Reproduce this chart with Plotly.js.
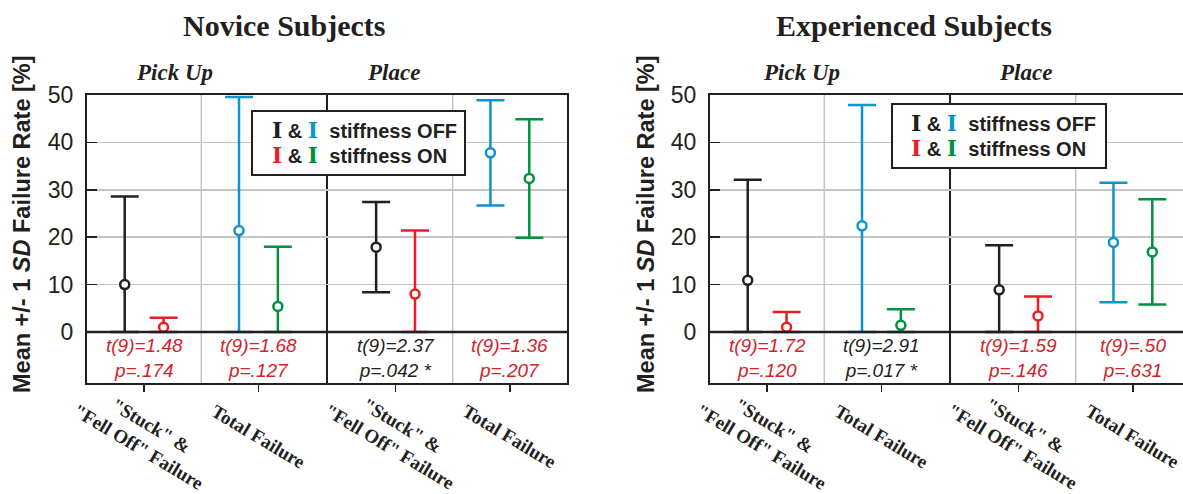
<!DOCTYPE html>
<html>
<head>
<meta charset="utf-8">
<script src="https://cdn.plot.ly/plotly-3.0.1.min.js"></script>
<style>html,body{margin:0;padding:0;background:#fff;}#chart{width:1183px;height:494px;}</style>
</head>
<body>
<div id="chart"></div>
<script>
// ---------- data ----------
const tasks = ['Pick Up', 'Place'];
const categoryLabels = ['"Stuck" &<br>"Fell Off" Failure', 'Total Failure', '"Stuck" &<br>"Fell Off" Failure', 'Total Failure'];
const panelTitles = ['Novice Subjects', 'Experienced Subjects'];

// Novice subjects (mean, SD) – [Pick Up, Place]
const noviceStuckOffMean = [10.0, 17.9];
const noviceStuckOffSD   = [18.6, 9.5];
const noviceStuckOnMean  = [1.0, 8.0];
const noviceStuckOnSD    = [2.0, 13.4];
const noviceTotalOffMean = [21.4, 37.8];
const noviceTotalOffSD   = [28.2, 11.1];
const noviceTotalOnMean  = [5.4, 32.4];
const noviceTotalOnSD    = [12.6, 12.5];

// Experienced subjects (mean, SD) – [Pick Up, Place]
const expStuckOffMean = [10.9, 8.9];
const expStuckOffSD   = [21.2, 9.4];
const expStuckOnMean  = [1.0, 3.4];
const expStuckOnSD    = [3.2, 4.1];
const expTotalOffMean = [22.4, 18.9];
const expTotalOffSD   = [25.5, 12.6];
const expTotalOnMean  = [1.4, 16.9];
const expTotalOnSD    = [3.4, 11.1];

// t-test statistics per category [PU stuck, PU total, Place stuck, Place total]
const noviceStats = [['t(9)=1.48', 'p=.174'], ['t(9)=1.68', 'p=.127'], ['t(9)=2.37', 'p=.042 *'], ['t(9)=1.36', 'p=.207']];
const noviceSig   = [false, false, true, false];
const expStats    = [['t(9)=1.72', 'p=.120'], ['t(9)=2.91', 'p=.017 *'], ['t(9)=1.59', 'p=.146'], ['t(9)=.50', 'p=.631']];
const expSig      = [false, true, false, false];

const yTicks = [0, 10, 20, 30, 40, 50];

// ---------- styling / geometry ----------
const W = 1183, H = 494;
const px = x => x / W;
const py = y => 1 - y / H;
const C = {black: '#231f20', red: '#ed1c24', blue: '#0e93cb', green: '#00923f', statRed: '#d2232a', grid: '#c4c4c4'};
const groupPos = [1, 2, 3.2, 4.2];   // category slots on the x axis
const off = 0.17;
const stuckIdx = [0, 2], totalIdx = [1, 3];
const yRange = [-10.76, 50];

function bars(xa, ya, idx, sign, mean, sd, color) {
  return {
    type: 'scatter', mode: 'markers', xaxis: xa, yaxis: ya,
    x: idx.map(i => groupPos[i] + sign * off),
    y: mean,
    error_y: {type: 'data', symmetric: false, array: sd,
              arrayminus: sd.map((s, k) => Math.min(s, mean[k])),
              color: color, thickness: 2.5, width: 14},
    marker: {symbol: 'circle', size: 9, color: '#ffffff', line: {color: color, width: 2.5}},
    hoverinfo: 'skip'
  };
}

const data = [
  bars('x', 'y', stuckIdx, -1, noviceStuckOffMean, noviceStuckOffSD, C.black),
  bars('x', 'y', stuckIdx, 1, noviceStuckOnMean, noviceStuckOnSD, C.red),
  bars('x', 'y', totalIdx, -1, noviceTotalOffMean, noviceTotalOffSD, C.blue),
  bars('x', 'y', totalIdx, 1, noviceTotalOnMean, noviceTotalOnSD, C.green),
  bars('x2', 'y2', stuckIdx, -1, expStuckOffMean, expStuckOffSD, C.black),
  bars('x2', 'y2', stuckIdx, 1, expStuckOnMean, expStuckOnSD, C.red),
  bars('x2', 'y2', totalIdx, -1, expTotalOffMean, expTotalOffSD, C.blue),
  bars('x2', 'y2', totalIdx, 1, expTotalOnMean, expTotalOnSD, C.green)
];

const sans = 'Liberation Sans, Arial, Helvetica, sans-serif';
const serif = 'Liberation Serif, Times New Roman, serif';

function xAxis(domain, range, anchor) {
  return {domain: domain, range: range, anchor: anchor, showgrid: false, zeroline: false,
          showline: true, mirror: true, linecolor: C.black, linewidth: 2,
          tickmode: 'array', tickvals: groupPos, ticks: 'outside', ticklen: 7, tickwidth: 1.5,
          tickcolor: C.black, showticklabels: false, fixedrange: true};
}
function yAxis(anchor, mirror) {
  return {domain: [py(383), py(95)], range: yRange, anchor: anchor, zeroline: false,
          showline: true, mirror: mirror, linecolor: C.black, linewidth: 2,
          tickmode: 'array', tickvals: yTicks, ticks: 'inside', ticklen: 10, tickwidth: 1.5,
          tickcolor: C.black, showgrid: true, gridcolor: C.grid, gridwidth: 1.5,
          ticklabelstandoff: 7,
          tickfont: {family: sans, size: 23, color: C.black}, fixedrange: true};
}

const shapes = [];
const annotations = [];
function note(o) {
  annotations.push(Object.assign({showarrow: false, xanchor: 'center', yanchor: 'middle'}, o));
}

function panel(xa, ya, stats, sig, titleX, puX, plX, legendBox, legendTextX, legendRows, ylabX) {
  const xr = xa === 'x' ? 'x' : 'x2';
  const yr = ya === 'y' ? 'y' : 'y2';
  // vertical separators at the midpoints between category slots
  [[0, 1, C.grid, 1.5], [1, 2, C.black, 2], [2, 3, C.grid, 1.5]].forEach(([a, b, col, w]) => {
    const xm = (groupPos[a] + groupPos[b]) / 2;
    shapes.push({type: 'line', xref: xr, yref: yr + ' domain', x0: xm, x1: xm, y0: 0, y1: 1,
                 line: {color: col, width: w}, layer: 'below'});
  });
  // zero line separating the statistics strip
  shapes.push({type: 'line', xref: xr + ' domain', yref: yr, x0: 0, x1: 1, y0: 0, y1: 0,
               line: {color: C.black, width: 2.5}, layer: 'above'});
  // statistics text
  stats.forEach((s, i) => {
    note({xref: xr, yref: yr, x: groupPos[i], y: yRange[0] / 2,
      text: '<i>' + s[0] + '<br>' + s[1] + '</i>', align: 'center',
      font: {family: sans, size: 19, color: sig[i] ? C.black : C.statRed}});
  });
  // category labels
  categoryLabels.forEach((lab, i) => {
    note({xref: xr, yref: 'paper', x: groupPos[i], y: py(436),
      text: '<b>' + lab + '</b>', textangle: 31, align: 'center',
      font: {family: serif, size: 19, color: C.black}});
  });
  // panel title & task headers
  note({xref: 'paper', yref: 'paper', x: px(titleX), y: py(26),
    text: '<b>' + panelTitles[xa === 'x' ? 0 : 1] + '</b>', font: {family: serif, size: 30, color: C.black}});
  note({xref: 'paper', yref: 'paper', x: px(puX), y: py(72),
    text: '<b><i>' + tasks[0] + '</i></b>', font: {family: serif, size: 23, color: C.black}});
  note({xref: 'paper', yref: 'paper', x: px(plX), y: py(72),
    text: '<b><i>' + tasks[1] + '</i></b>', font: {family: serif, size: 23, color: C.black}});
  // y axis title
  note({xref: 'paper', yref: 'paper', x: px(ylabX), y: py(224), textangle: -90,
    text: '<b>Mean +/- 1 <i>SD</i> Failure Rate [%]</b>', font: {family: sans, size: 23.5, color: C.black}});
  // legend box
  shapes.push({type: 'rect', xref: 'paper', yref: 'paper',
    x0: px(legendBox[0]), x1: px(legendBox[1]), y0: py(legendBox[3]), y1: py(legendBox[2]),
    fillcolor: '#ffffff', line: {color: C.black, width: 2}, layer: 'above'});
  const glyph = col => '<span style="font-family:\'DejaVu Serif\';font-size:22px;color:' + col + '">I</span>';
  const rows = [[C.black, C.blue, 'stiffness OFF'], [C.red, C.green, 'stiffness ON']];
  rows.forEach((r, k) => {
    note({xref: 'paper', yref: 'paper', x: px(legendTextX), y: py(legendRows[k]), xanchor: 'left',
      text: '<b>' + glyph(r[0]) + ' & ' + glyph(r[1]) + '\u00a0\u00a0' + r[2] + '</b>',
      font: {family: sans, size: 20, color: C.black}});
  });
}

panel('x', 'y', noviceStats, noviceSig, 284, 174, 393, [252, 465, 111, 175], 270, [130, 155], 22);
panel('x2', 'y2', expStats, expSig, 914, 801, 1025, [892, 1106, 104, 168], 909, [123, 148], 646);

const layout = {
  width: W, height: H, margin: {l: 0, r: 0, t: 0, b: 0},
  paper_bgcolor: '#ffffff', plot_bgcolor: '#ffffff', showlegend: false,
  font: {family: sans, color: C.black},
  xaxis: xAxis([px(87), px(567)], [0.5, 4.7], 'y'),
  yaxis: yAxis('x', true),
  xaxis2: xAxis([px(710), 1], [0.5, 0.5 + 473 / 114.29], 'y2'),
  yaxis2: yAxis('x2', false),
  shapes: shapes,
  annotations: annotations
};

Plotly.newPlot('chart', data, layout, {displayModeBar: false, staticPlot: true});
</script>
</body>
</html>
